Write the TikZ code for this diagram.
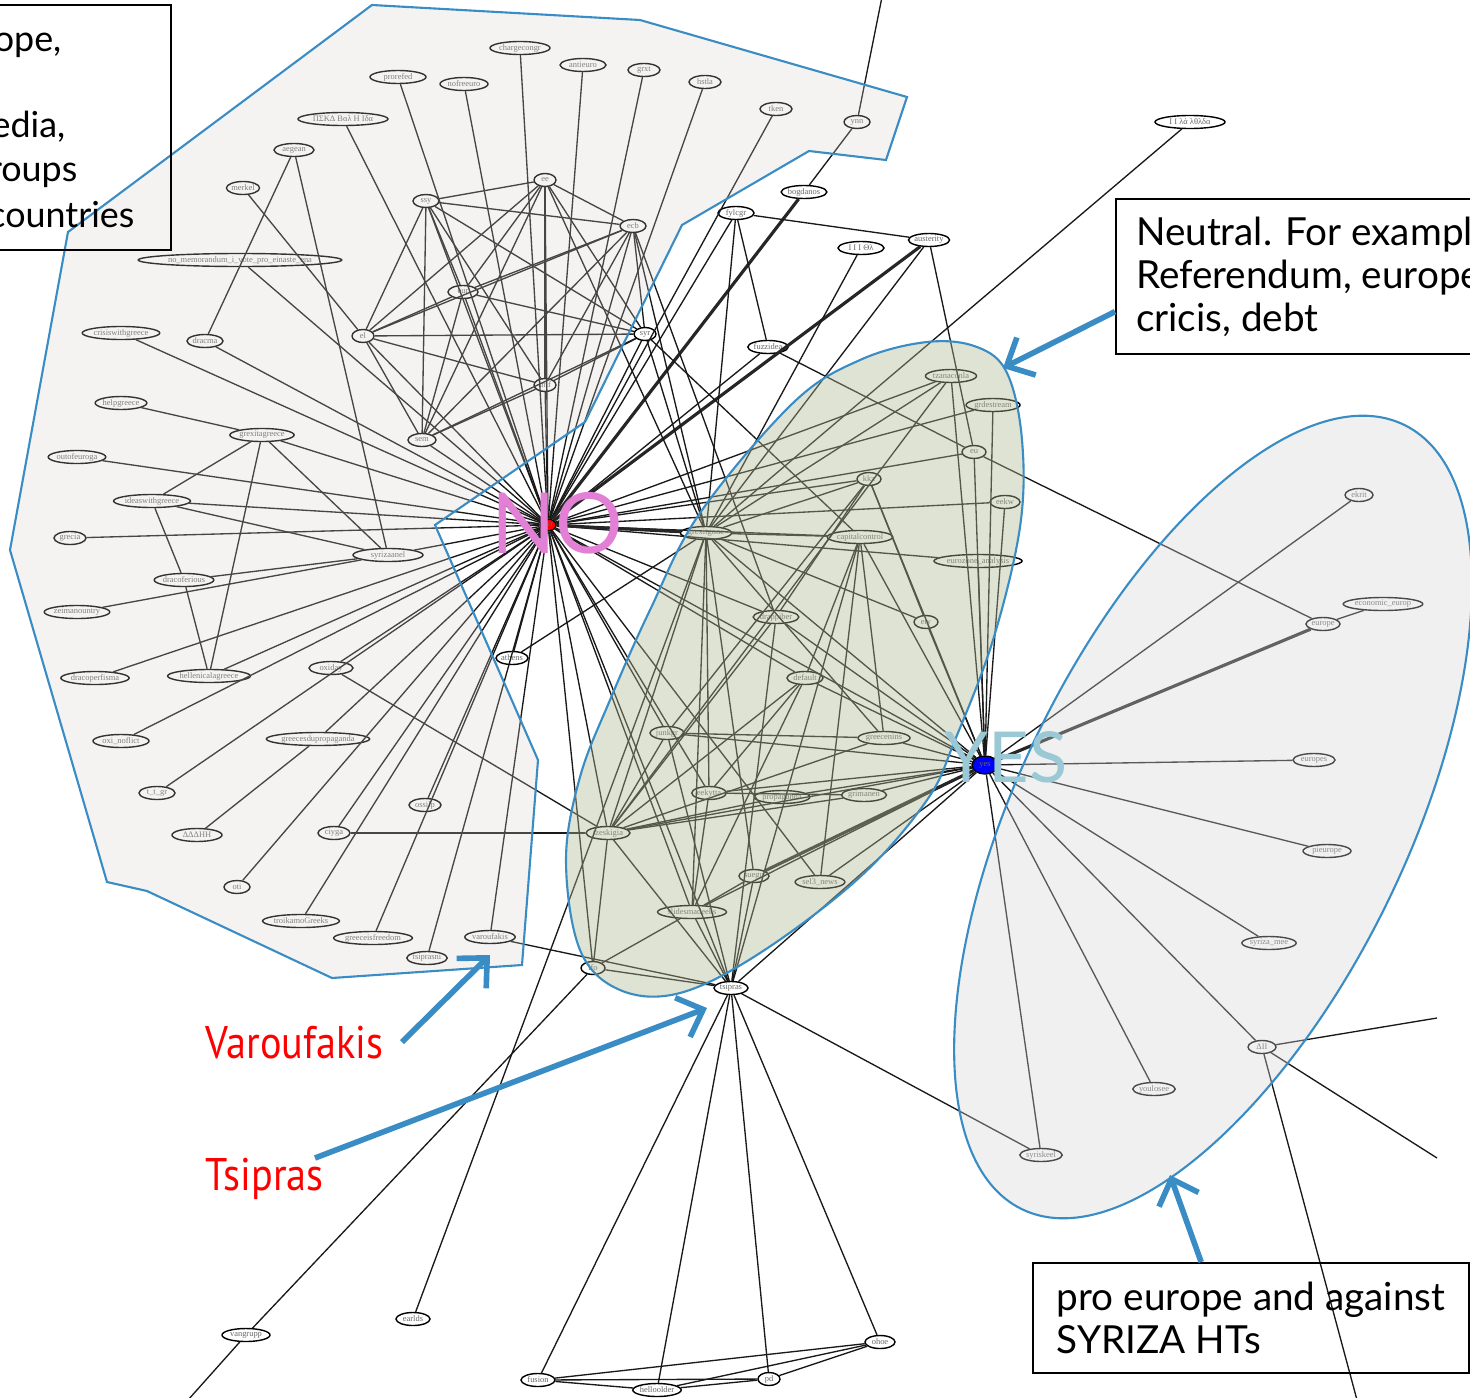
\documentclass[tikz,border=0pt]{standalone}
\usepackage{fontspec}
\setmainfont{Lato}
\newfontfamily\nodefont{Liberation Serif}
\newfontfamily\redfont[FakeStretch=0.88]{PT Sans}
\usetikzlibrary{shapes.geometric,arrows.meta}

\definecolor{hullblue}{RGB}{58,140,196}
\definecolor{hullgray}{RGB}{211,207,200}
\definecolor{hullgreen}{RGB}{176,184,146}
\definecolor{hullright}{RGB}{211,211,211}
\definecolor{nopink}{RGB}{226,128,214}
\definecolor{yesblue}{RGB}{154,201,213}

\tikzset{
  vtx/.style={ellipse, draw, line width=0.4pt, inner sep=0pt, minimum height=0.13cm,
    font=\nodefont\fontsize{2.4}{3}\selectfont, text=black!60},
  edge/.style={line width=0.38pt, black!90},
  heavy/.style={line width=0.9pt, black!85},
  hull/.style={draw=hullblue, line width=0.6pt},
  callout/.style={draw=hullblue, line width=1.6pt, -{Straight Barb[length=2.2mm,width=4.2mm]}},
  textbox/.style={draw, line width=0.6pt, align=left, inner xsep=0.2cm,
    font=\fontsize{11}{12.2}\selectfont},
  cutline/.style={anchor=base east, inner sep=0pt, font=\fontsize{10.2}{12}\selectfont},
  redlabel/.style={text=red, inner sep=0pt, font=\redfont\fontsize{13}{15}\selectfont}
}

\begin{document}
\begin{tikzpicture}[x=0.01cm, y=-0.01cm]
    \useasboundingbox (0,0) rectangle (1470,1397);
    \clip (0,0) rectangle (1470,1397);

    % Hubs
    \node[vtx, fill=red, minimum width=0.16cm, minimum height=0.12cm] (no) at (548,525) {no};
    \node[vtx, fill=blue, minimum width=0.26cm, minimum height=0.18cm] (yes) at (985,765) {yes};

    % Nodes of the NO side
    \foreach \n/\x/\y/\w/\l in {
      chargecongr/520/48/60/chargecongr, antieuro/583/65/46/antieuro, grxt/644/70/32/grxt,
      hstla/705/82/32/hstla, tken/776/109/32/tken, ynn/857/122/26/ynn,
      prorefed/398/77/56/prorefed, nofreeuro/464/84/48/nofreeuro,
      grkvote/343/119/90/ΠΣΚΔ Βαλ Η Ιδα, aegean/294/150/40/aegean, merkel/243/188/30/merkel,
      nomemo/240/260/170/no\_memorandum\_i\_vote\_pro\_einaste\_ena,
      crisisgr/121/333/68/crisiswithgreece, dracma/205/341/36/dracma,
      helpgr/121/403/46/helpgreece, grexitgr/262/435/54/grexitagreece,
      outofeuro/77/457/52/outofeuroga, ideasgr/152/501/64/ideaswithgreece,
      grecia/70/538/32/grecia, syrizaanel/388/555/70/syrizaanel,
      dracofer/184/580/56/dracoferious, zeimano/77/612/52/zeimanountry,
      dracoper/95/678/62/dracoperfisma, hellenic/209/676/70/hellenicalagreece,
      oxiday/331/668/44/oxiday, oxinof/121/741/56/oxi\_noflict,
      grprop/318/739/94/greecesdupropaganda, ttgr/157/793/36/t\_t\_gr,
      deltah/197/835/50/ΔΔΔΗΗ, oti/237/887/26/oti, troika/301/921/60/troikamoGreeks,
      grfree/373/938/72/greeceisfreedom, tsiprasni/427/958/40/tsiprasni,
      varoufakis/490/937/50/varoufakis, ossilp/425/805/32/ossilp,
      ciyga/334/833/32/ciyga, athens/512/658/32/athens,
      ssy/426/201/26/ssy, ee/545/180/22/ee, ecb/633/226/26/ecb, eur/463/292/30/eur,
      el/363/336/22/el, syr/645/334/22/syr, imf/545/385/22/imf, sem/422/440/28/sem}
      \node[vtx, minimum width=\w*0.01cm] (\n) at (\x,\y) {\l};

    % Nodes between the groups
    \foreach \n/\x/\y/\w/\l in {
      fylcgr/736/213/36/fylcgr, bogdanos/804/192/44/bogdanos, grkthr/861/248/46/Ι Ι Ι Θλ,
      austerity/929/240/40/austerity, fuzzidea/768/347/40/fuzzidea,
      grksmall/1190/122/70/Ι Ι λά λθλδα}
      \node[vtx, minimum width=\w*0.01cm] (\n) at (\x,\y) {\l};

    % Nodes of the neutral group
    \foreach \n/\x/\y/\w/\l in {
      tzanaconla/951/376/48/tzanaconla, grdestream/993/405/54/grdestream, eu/974/452/24/eu,
      kkz/869/479/24/kkz, eekw/1005/502/30/eekw, grexitgone/706/533/40/grexitgone,
      capcontrol/860/537/56/capitalcontrol, ezanalysis/978/561/76/eurozone\_analysis,
      drappiber/776/617/40/drappiber, ely/926/622/24/ely, default/805/678/36/default,
      junkgr/667/733/34/junkgr, grnins/884/738/52/greecenins, eekytta/709/793/32/eekytta,
      propaganda/782/797/50/propaganda, grimanen/864/795/40/grimanen,
      tzeskigia/608/833/44/tzeskigia, suegu/754/876/30/suegu, selnews/820/882/48/sel3\_news,
      slides/692/912/66/slidesmadeeks, ifo/593/968/24/ifo, tsipras/731/988/34/tsipras}
      \node[vtx, minimum width=\w*0.01cm] (\n) at (\x,\y) {\l};

    % Nodes of the YES side and below
    \foreach \n/\x/\y/\w/\l in {
      ekrit/1359/495/28/ekrit, econeurop/1383/604/74/economic\_europ, europe/1323/624/34/europe,
      europes/1314/760/42/europes, pieurope/1327/851/48/pieurope,
      syrizamee/1269/943/52/syriza\_mee, deltaii/1262/1047/28/ΔΙΙ,
      youlosee/1154/1089/38/youlosee, syriskeel/1041/1155/42/syriskeel,
      vangrupp/246/1335/48/vangrupp, earlds/413/1319/34/earlds, fusion/538/1380/34/fusion,
      helloolder/657/1390/48/helloolder, pd/769/1379/22/pd, ohoe/880/1342/30/ohoe}
      \node[vtx, minimum width=\w*0.01cm] (\n) at (\x,\y) {\l};

    % Loose ends leaving the picture
    \coordinate (cutA) at (1437,1018);
    \coordinate (cutB) at (1437,1158);
    \coordinate (cutC) at (1357,1400);
    \coordinate (cutD) at (188,1400);
    \coordinate (cutE) at (882,-3);

    % Edges of the NO hub
    \foreach \t in {chargecongr,antieuro,grxt,hstla,tken,prorefed,nofreeuro,grkvote,nomemo,
      crisisgr,dracma,grexitgr,outofeuro,ideasgr,grecia,syrizaanel,dracoper,hellenic,oxiday,
      oxinof,grprop,ttgr,oti,troika,grfree,tsiprasni,varoufakis,ossilp,ciyga,athens,
      ssy,ee,ecb,eur,el,syr,imf,sem,fylcgr,fuzzidea,tzanaconla,grdestream,eu,kkz,eekw,
      capcontrol,ezanalysis,drappiber,default,junkgr,tzeskigia,selnews,ifo,tsipras,slides,
      eekytta,yes}
      \draw[edge] (no) -- (\t);
    \draw[heavy] (no) -- (bogdanos);
    \draw[heavy] (no) -- (grexitgone);
    \draw[heavy] (no) -- (austerity);

    % Edges of the YES hub
    \foreach \t in {tzanaconla,grdestream,eu,eekw,ezanalysis,ely,drappiber,default,junkgr,
      grnins,eekytta,propaganda,grimanen,tzeskigia,selnews,slides,grexitgone,capcontrol,kkz,
      tsipras,ekrit,europes,pieurope,syrizamee,deltaii,youlosee,syriskeel}
      \draw[edge] (yes) -- (\t);
    \draw[heavy] (yes) -- (europe);
    \draw[heavy] (yes) -- (suegu);

    % Other edges
    \foreach \a/\b in {
      aegean/dracma, aegean/syrizaanel, merkel/el, helpgr/grexitgr, grexitgr/ideasgr,
      grexitgr/hellenic, grexitgr/syrizaanel, ideasgr/syrizaanel, ideasgr/dracofer,
      dracofer/syrizaanel, dracofer/hellenic, zeimano/syrizaanel, deltah/grprop,
      oxiday/tzeskigia, ciyga/tzeskigia, varoufakis/tsipras, athens/grexitgone,
      ssy/ee, ssy/ecb, ssy/eur, ssy/el, ssy/syr, ssy/sem, ssy/imf, ee/ecb, ee/eur, ee/el,
      ee/syr, ee/sem, ee/imf, ecb/eur, ecb/el, ecb/syr, ecb/sem, ecb/imf, eur/el, eur/syr,
      eur/sem, el/syr, el/sem, el/imf, syr/sem, syr/imf, sem/imf,
      ecb/grexitgone, syr/grexitgone, ee/grexitgone, ecb/drappiber, syr/capcontrol,
      bogdanos/ynn, ynn/cutE, fylcgr/fuzzidea, fylcgr/austerity, fylcgr/grexitgone,
      grkthr/grexitgone, grksmall/grexitgone, austerity/grexitgone, austerity/eu,
      fuzzidea/eu, eu/europe, econeurop/europe,
      grexitgone/capcontrol, grexitgone/tzeskigia, grexitgone/slides, grexitgone/eekytta,
      grexitgone/suegu, grexitgone/grnins, grexitgone/ely, grexitgone/tzanaconla,
      grexitgone/kkz, kkz/junkgr, kkz/ely, kkz/drappiber, capcontrol/default,
      capcontrol/grnins, capcontrol/selnews, capcontrol/tsipras, tzeskigia/grnins,
      tzeskigia/propaganda, tzeskigia/grimanen, tzeskigia/ifo, tzeskigia/tsipras,
      tzeskigia/default, tzeskigia/tzanaconla, junkgr/grnins, junkgr/tzeskigia,
      junkgr/tsipras, eekytta/grimanen, eekytta/slides, default/eekytta, default/slides,
      slides/suegu, slides/tsipras, slides/ifo, ifo/tsipras, suegu/tsipras,
      drappiber/tsipras, drappiber/tzeskigia,
      vangrupp/ifo, vangrupp/cutD, earlds/grexitgone, tsipras/fusion, tsipras/helloolder,
      tsipras/pd, tsipras/ohoe, tsipras/syriskeel, fusion/helloolder, fusion/pd,
      fusion/ohoe, helloolder/pd, helloolder/ohoe, pd/ohoe,
      deltaii/cutA, deltaii/cutB, deltaii/cutC}
      \draw[edge] (\a) -- (\b);

    % Group outlines
    \path[hull, fill=hullgray, fill opacity=0.25] (372,5) -- (640,20) -- (907,97) -- (886,160)
      -- (809,151) -- (682,225) -- (585,422) -- (435,525) -- (538,760) -- (522,965)
      -- (332,978) -- (147,891) -- (107,882) -- (10,550) -- (68,232) -- cycle;
    \path[hull, fill=hullgreen, fill opacity=0.4] plot[smooth cycle, tension=0.6] coordinates {
      (927,342) (977,347) (1007,373) (1022,440) (1020,527) (993,640) (955,740) (927,800)
      (860,877) (760,953) (680,993) (620,990) (580,950) (566,860) (580,777) (610,700)
      (650,610) (700,513) (793,403) (860,360)};
    \path[hull, fill=hullright, fill opacity=0.35] (1213,817)
      ellipse [x radius=4.36cm, y radius=1.94cm, rotate=64];

    % Hub labels
    \node[text=nopink, inner sep=0pt, font=\fontsize{24}{24}\selectfont] (nolabel) at (557,523) {NO};
    \node[text=yesblue, inner sep=0pt, font=\fontsize{20}{20}\selectfont] (yeslabel) at (1006,757) {YES};

    % Text boxes
    \draw[line width=0.6pt] (-40,5) rectangle (171,250);
    \node[cutline] (lineA) at (62,52) {europe,};
    \node[cutline] (lineB) at (66,138) {media,};
    \node[cutline] (lineC) at (78,182) {groups};
    \node[cutline] (lineD) at (135,228) {countries};
    \node[textbox, anchor=north west, minimum height=1.55cm] (neutral) at (1115,198)
      {Neutral. For example\\ Referendum, europe\\ cricis, debt};
    \node[textbox, anchor=north west, minimum height=1.1cm, minimum width=4.36cm] (probox) at (1032,1262)
      {pro europe and against\\ SYRIZA HTs};

    % Red labels
    \node[redlabel, anchor=base west] (varlabel) at (205,1058) {Varoufakis};
    \node[redlabel, anchor=base west] (tsiplabel) at (205,1190) {Tsipras};

    % Callout arrows
    \coordinate (varhead) at (490,955);
    \coordinate (tsiptail) at (315,1158);
    \coordinate (tsiphead) at (707,1008);
    \coordinate (neuhead) at (1003,368);
    \coordinate (prohead) at (1170,1175);
    \draw[callout] ([xshift=0.18cm]varlabel.east) -- (varhead);
    \draw[callout] (tsiptail) -- (tsiphead);
    \draw[callout] ([yshift=-0.35cm]neutral.west) -- (neuhead);
    \draw[callout] ([xshift=-0.5cm]probox.north) -- (prohead);

\end{tikzpicture}
\end{document}
